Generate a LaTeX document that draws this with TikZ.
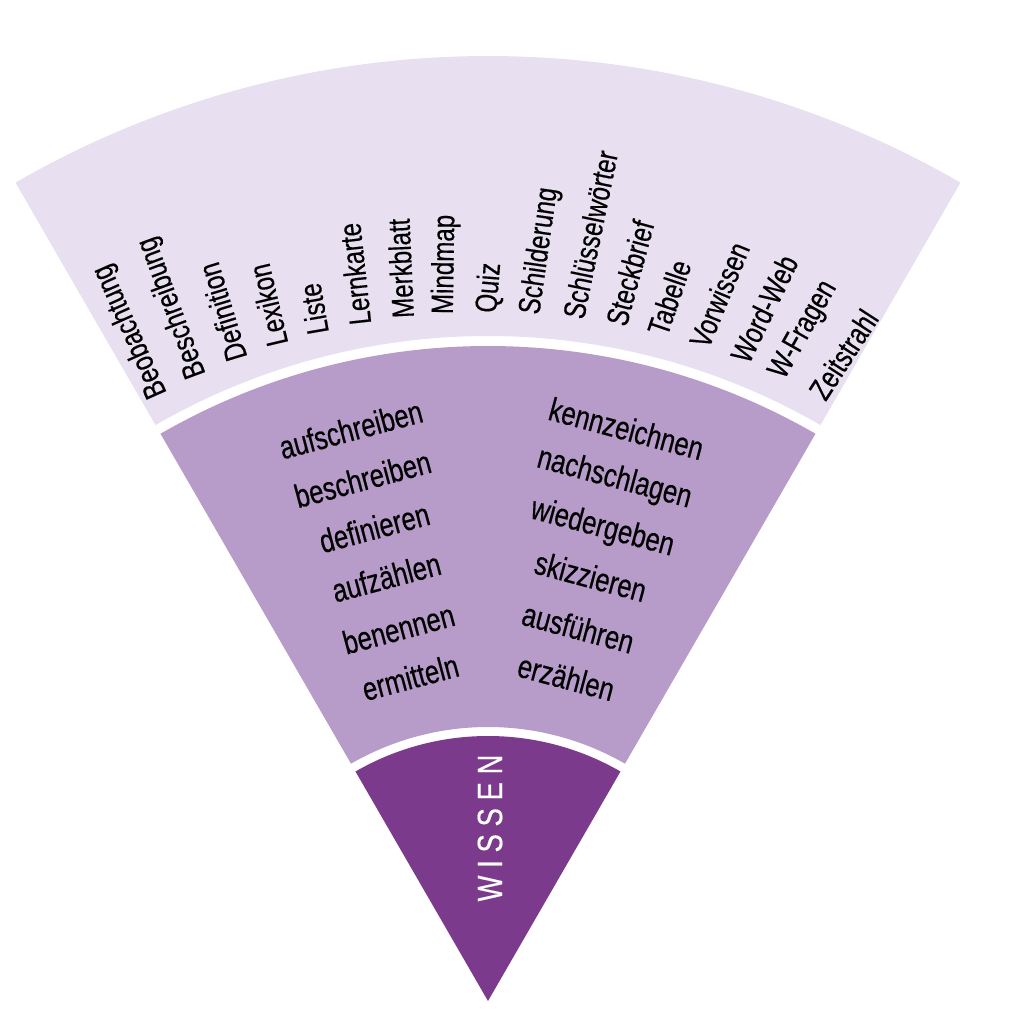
\documentclass[tikz,border=0pt]{standalone}
\usepackage{fontspec}
\setmainfont{Liberation Sans}[FakeStretch=0.78, FakeBold=0.4]
\usepackage{tikz}
\definecolor{wissenlila}{RGB}{123,58,140}
\definecolor{mittellila}{RGB}{183,155,201}
\definecolor{helllila}{RGB}{232,224,241}

\tikzset{
    begriff/.style={anchor=west, inner sep=0pt, font=\fontsize{17.6}{20}\selectfont},
    verb/.style={inner sep=0pt, font=\fontsize{18.7}{20}\selectfont},
}

\begin{document}
\begin{tikzpicture}[x=0.2mm, y=0.2mm]
    \useasboundingbox (-488,-23) rectangle (530,1001);

    % Rings
    \fill[helllila] (60:665) -- (60:945) arc[start angle=60, end angle=120, radius=945]
        -- (120:665) arc[start angle=120, end angle=60, radius=665] -- cycle;
    \fill[mittellila] (60:274) -- (60:655) arc[start angle=60, end angle=120, radius=655]
        -- (120:274) arc[start angle=120, end angle=60, radius=274] -- cycle;
    \fill[wissenlila] (0,0) -- (60:265) arc[start angle=60, end angle=120, radius=265] -- cycle;

    % Outer ring
    \node[begriff, rotate=114.0] (beobachtung) at (118.5:688) {Beobachtung};
    \node[begriff, rotate=110.4] (beschreibung) at (114.9:688) {Beschreibung};
    \node[begriff, rotate=106.9] (definition) at (111.4:688) {Definition};
    \node[begriff, rotate=103.3] (lexikon) at (107.8:688) {Lexikon};
    \node[begriff, rotate=99.8] (liste) at (104.3:688) {Liste};
    \node[begriff, rotate=96.2] (lernkarte) at (100.7:688) {Lernkarte};
    \node[begriff, rotate=92.6] (merkblatt) at (97.1:688) {Merkblatt};
    \node[begriff, rotate=89.1] (mindmap) at (93.6:688) {Mindmap};
    \node[begriff, rotate=85.5] (quiz) at (90:688) {Quiz};
    \node[begriff, rotate=81.9] (schilderung) at (86.4:688) {Schilderung};
    \node[begriff, rotate=78.4] (schluesselwoerter) at (82.9:688) {Schlüsselwörter};
    \node[begriff, rotate=74.8] (steckbrief) at (79.3:688) {Steckbrief};
    \node[begriff, rotate=71.3] (tabelle) at (75.8:688) {Tabelle};
    \node[begriff, rotate=67.7] (vorwissen) at (72.2:688) {Vorwissen};
    \node[begriff, rotate=64.1] (wordweb) at (68.6:688) {Word-Web};
    \node[begriff, rotate=60.6] (wfragen) at (65.1:688) {W-Fragen};
    \node[begriff, rotate=57.0] (zeitstrahl) at (61.5:688) {Zeitstrahl};

    % Middle ring, left
    \node[verb, rotate=15] (aufschreiben) at (103.5:588) {aufschreiben};
    \node[verb, rotate=15] (beschreiben) at (103.5:537) {beschreiben};
    \node[verb, rotate=15] (definieren) at (103.5:487) {definieren};
    \node[verb, rotate=15] (aufzaehlen) at (103.5:436) {aufzählen};
    \node[verb, rotate=15] (benennen) at (103.5:383) {benennen};
    \node[verb, rotate=15] (ermitteln) at (103.5:333) {ermitteln};

    % Middle ring, right
    \node[verb, rotate=-15] (kennzeichnen) at (76.4:589) {kennzeichnen};
    \node[verb, rotate=-15] (nachschlagen) at (76.4:537) {nachschlagen};
    \node[verb, rotate=-15] (wiedergeben) at (76.4:486) {wiedergeben};
    \node[verb, rotate=-15] (skizzieren) at (76.4:437) {skizzieren};
    \node[verb, rotate=-15] (ausfuehren) at (76.4:384) {ausführen};
    \node[verb, rotate=-15] (erzaehlen) at (76.4:333) {erzählen};

    % Inner
    \node[rotate=90, text=white, inner sep=0pt, font=\fontsize{20}{22}\selectfont] (wissen) at (2,173)
        {W\kern.22em I\kern.22em S\kern.22em S\kern.22em E\kern.22em N};
\end{tikzpicture}
\end{document}
